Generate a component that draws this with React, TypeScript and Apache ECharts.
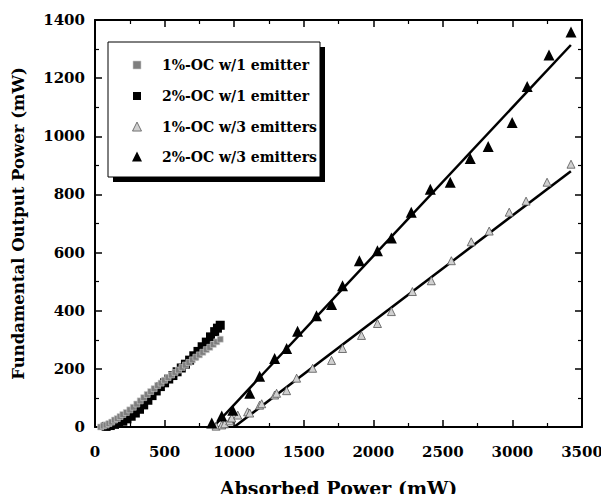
import React, { useEffect, useRef } from "react";
import * as echarts from "echarts";

const xTicks = [0, 500, 1000, 1500, 2000, 2500, 3000, 3500];
const yTicks = [0, 200, 400, 600, 800, 1000, 1200, 1400];

const seriesNames = [
  "1%-OC w/1 emitter",
  "2%-OC w/1 emitter",
  "1%-OC w/3 emitters",
  "2%-OC w/3 emitters",
];

const oc1Em1: [number, number][] = [
  [40, 0], [60, 4], [80, 7], [100, 12], [120, 17], [140, 24], [160, 29], [180, 36],
  [200, 43], [225, 50], [250, 59], [275, 68], [300, 79], [325, 90], [350, 101],
  [375, 112], [400, 122], [425, 132], [450, 143], [475, 151], [500, 161], [525, 170],
  [550, 179], [575, 188], [600, 196], [625, 205], [650, 213], [675, 222], [700, 231],
  [725, 240], [750, 248], [775, 257], [800, 266], [825, 274], [850, 284], [875, 293],
  [900, 302],
];

const oc2Em1: [number, number][] = [
  [80, 2], [110, 5], [140, 9], [170, 14], [200, 20], [230, 28], [260, 37], [290, 48],
  [320, 61], [350, 76], [380, 92], [410, 108], [440, 124], [470, 139], [500, 152],
  [530, 165], [560, 177], [590, 190], [620, 203], [650, 216], [680, 230], [710, 245],
  [740, 260], [770, 276], [800, 292], [830, 310], [860, 328], [880, 340], [900, 350],
];

const oc1Em3: [number, number][] = [
  [870, 3], [911, 7], [932, 11], [968, 21], [983, 31], [1026, 41], [1097, 52],
  [1112, 48], [1183, 75], [1198, 80], [1291, 110], [1305, 116], [1377, 125],
  [1449, 168], [1564, 202], [1700, 229], [1779, 270], [1915, 315], [2030, 356],
  [2130, 397], [2281, 466], [2417, 503], [2561, 572], [2704, 637], [2833, 674],
  [2977, 739], [3098, 777], [3249, 842], [3421, 904],
];

const oc2Em3: [number, number][] = [
  [839, 14], [911, 38], [990, 58], [1112, 116], [1183, 175], [1291, 236],
  [1377, 270], [1456, 329], [1592, 383], [1700, 421], [1779, 486], [1900, 572],
  [2030, 606], [2130, 650], [2273, 739], [2410, 818], [2553, 842], [2697, 924],
  [2826, 965], [2998, 1047], [3106, 1171], [3263, 1280], [3421, 1359],
];

const fit1Em3: [number, number][] = [[1000, 0], [3420, 880]];
const fit2Em3: [number, number][] = [[850, 0], [3420, 1314]];

const FONT = "DejaVu Serif";

const GRAY_SQ = { fill: "#7e7e7e", stroke: "#cfcfcf", lineWidth: 0.6 };
const BLACK = { fill: "#000" };
const GRAY_TRI = { fill: "#d0d0d0", stroke: "#555", lineWidth: 0.8 };

function legendGraphic() {
  const bx = 108, by = 42, bw = 212, bh = 135;
  const sx = 137, tx = 162;
  const rows = [65, 96, 127, 157];
  const els: any[] = [
    { type: "rect", shape: { x: bx + 5, y: by + 5, width: bw, height: bh }, style: { fill: "#000" }, z: 10 },
    { type: "rect", shape: { x: bx, y: by, width: bw, height: bh }, style: { fill: "#fff", stroke: "#000", lineWidth: 1 }, z: 11 },
  ];
  const tri = (cy: number, s: number) => [[sx, cy - s * 0.55], [sx - s / 2, cy + s * 0.45], [sx + s / 2, cy + s * 0.45]];
  els.push({ type: "rect", shape: { x: sx - 4, y: rows[0] - 4, width: 8, height: 8 }, style: GRAY_SQ, z: 12 });
  els.push({ type: "rect", shape: { x: sx - 4, y: rows[1] - 4, width: 8, height: 8 }, style: BLACK, z: 12 });
  els.push({ type: "polygon", shape: { points: tri(rows[2], 9) }, style: GRAY_TRI, z: 12 });
  els.push({ type: "polygon", shape: { points: tri(rows[3], 10) }, style: BLACK, z: 12 });
  seriesNames.forEach((n, i) => {
    els.push({
      type: "text",
      x: tx,
      y: rows[i],
      z: 12,
      style: { text: n, fill: "#000", font: `bold 14px "${FONT}"`, textVerticalAlign: "middle", verticalAlign: "middle" },
    });
  });
  return els;
}

export default function App() {
  const ref = useRef<HTMLDivElement>(null);
  useEffect(() => {
    if (!ref.current) return;
    const chart = echarts.init(ref.current, undefined, { renderer: "svg" });
    const axisCommon = {
      min: 0,
      axisLine: { show: true, onZero: false, lineStyle: { color: "#000", width: 2 } },
      axisTick: { show: true, inside: true, length: 7, lineStyle: { color: "#000", width: 1.5 } },
      minorTick: { show: true, splitNumber: 2, length: 4, lineStyle: { color: "#000", width: 1.2 } },
      splitLine: { show: false },
      minorSplitLine: { show: false },
    };
    const labelStyle = { color: "#000", fontFamily: FONT, fontWeight: "bold" as const, fontSize: 15 };
    chart.setOption({
      animation: false,
      backgroundColor: "#fff",
      grid: { left: 95, right: 27, top: 20, bottom: 73 },
      xAxis: [
        {
          ...axisCommon,
          type: "value",
          max: 3500,
          interval: 500,
          position: "bottom",
          axisLabel: { ...labelStyle, margin: 17, formatter: (v: number) => (xTicks.includes(v) ? String(v) : "") },
          name: "Absorbed Power (mW)",
          nameLocation: "middle",
          nameGap: 51,
          nameTextStyle: { color: "#000", fontFamily: FONT, fontWeight: "bold", fontSize: 19 },
        },
        {
          ...axisCommon,
          type: "value",
          max: 3500,
          interval: 500,
          position: "top",
          axisLabel: { show: false },
        },
      ],
      yAxis: [
        {
          ...axisCommon,
          type: "value",
          max: 1400,
          interval: 200,
          position: "left",
          axisLabel: { ...labelStyle, margin: 10, formatter: (v: number) => (yTicks.includes(v) ? String(v) : "") },
          name: "Fundamental Output Power (mW)",
          nameLocation: "middle",
          nameGap: 68,
          nameTextStyle: { color: "#000", fontFamily: FONT, fontWeight: "bold", fontSize: 16.5 },
        },
        {
          ...axisCommon,
          type: "value",
          max: 1400,
          interval: 200,
          position: "right",
          axisLabel: { show: false },
        },
      ],
      graphic: legendGraphic(),
      series: [
        {
          name: seriesNames[1],
          type: "scatter",
          data: oc2Em1,
          symbol: "rect",
          symbolSize: 9,
          itemStyle: { color: "#000", opacity: 1 },
          z: 2,
        },
        {
          name: seriesNames[0],
          type: "scatter",
          data: oc1Em1,
          symbol: "rect",
          symbolSize: 6,
          itemStyle: { color: GRAY_SQ.fill, borderColor: GRAY_SQ.stroke, borderWidth: GRAY_SQ.lineWidth, opacity: 1 },
          z: 3,
        },
        {
          name: "fit1",
          type: "line",
          data: fit1Em3,
          symbol: "none",
          lineStyle: { color: "#000", width: 2.5 },
          z: 2,
        },
        {
          name: "fit2",
          type: "line",
          data: fit2Em3,
          symbol: "none",
          lineStyle: { color: "#000", width: 2.5 },
          z: 2,
        },
        {
          name: seriesNames[2],
          type: "scatter",
          data: oc1Em3,
          symbol: "triangle",
          symbolSize: 8,
          itemStyle: { color: GRAY_TRI.fill, borderColor: GRAY_TRI.stroke, borderWidth: GRAY_TRI.lineWidth, opacity: 1 },
          z: 3,
        },
        {
          name: seriesNames[3],
          type: "scatter",
          data: oc2Em3,
          symbol: "triangle",
          symbolSize: 11,
          itemStyle: { color: "#000", opacity: 1 },
          z: 3,
        },
      ],
    });
    return () => chart.dispose();
  }, []);
  return <div ref={ref} style={{ width: 609, height: 502, margin: -8 }} />;
}
